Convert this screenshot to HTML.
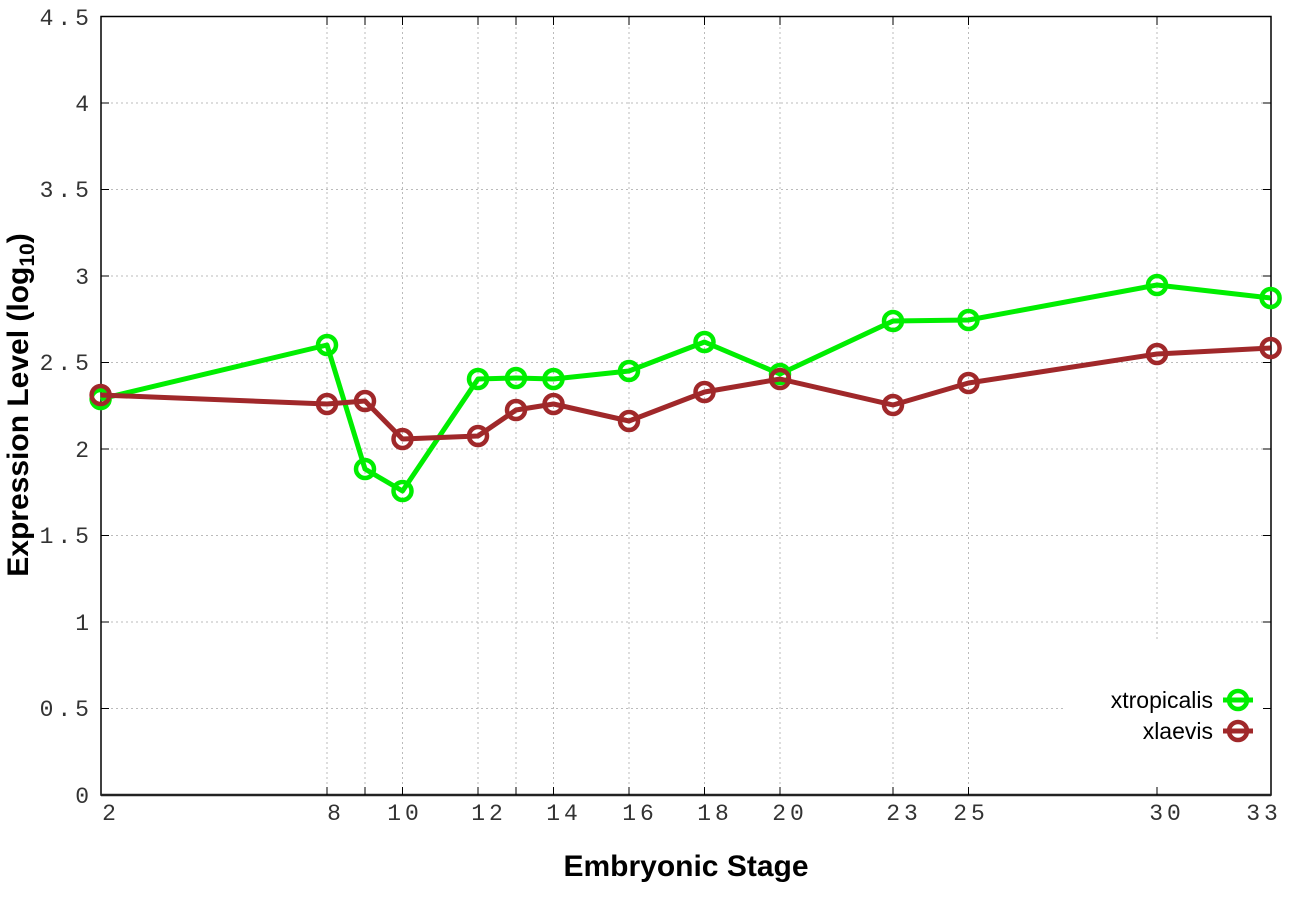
<!DOCTYPE html>
<html><head><style>body{margin:0;background:#fff}svg{display:block}</style></head><body>
<svg width="1296" height="907" xmlns="http://www.w3.org/2000/svg">
<rect width="1296" height="907" fill="#fff"/>
<g stroke="#bbb" stroke-width="1" stroke-dasharray="2,3">
<line x1="101" x2="1271" y1="708.5" y2="708.5"/><line x1="101" x2="1271" y1="622" y2="622"/>
<line x1="101" x2="1271" y1="535.5" y2="535.5"/><line x1="101" x2="1271" y1="449" y2="449"/>
<line x1="101" x2="1271" y1="362.5" y2="362.5"/><line x1="101" x2="1271" y1="276" y2="276"/>
<line x1="101" x2="1271" y1="189.5" y2="189.5"/><line x1="101" x2="1271" y1="103" y2="103"/>
<line x1="327" x2="327" y1="17" y2="795"/><line x1="365" x2="365" y1="17" y2="795"/>
<line x1="402.5" x2="402.5" y1="17" y2="795"/><line x1="478" x2="478" y1="17" y2="795"/>
<line x1="516" x2="516" y1="17" y2="795"/><line x1="553.5" x2="553.5" y1="17" y2="795"/>
<line x1="629" x2="629" y1="17" y2="795"/><line x1="704.5" x2="704.5" y1="17" y2="795"/>
<line x1="780" x2="780" y1="17" y2="795"/><line x1="893" x2="893" y1="17" y2="795"/>
<line x1="968.5" x2="968.5" y1="17" y2="795"/><line x1="1157" x2="1157" y1="17" y2="640"/>
</g>
<rect x="1065" y="660" width="200" height="100" fill="#fff"/>
<g stroke="#000" stroke-width="1.5">
<rect x="101" y="16.5" width="1170" height="778.5" fill="none"/>
</g>
<line x1="101" x2="1271" y1="795" y2="795" stroke="#222" stroke-width="2.5"/>
<g stroke="#000" stroke-width="1">
<path d="M101 708.5h8M101 622h8M101 535.5h8M101 449h8M101 362.5h8M101 276h8M101 189.5h8M101 103h8M1271 708.5h-8M1271 622h-8M1271 535.5h-8M1271 449h-8M1271 362.5h-8M1271 276h-8M1271 189.5h-8M1271 103h-8"/>
<path d="M327 795v-8M365 795v-8M402.5 795v-8M478 795v-8M516 795v-8M553.5 795v-8M629 795v-8M704.5 795v-8M780 795v-8M893 795v-8M968.5 795v-8M1157 795v-8M327 17v8M365 17v8M402.5 17v8M478 17v8M516 17v8M553.5 17v8M629 17v8M704.5 17v8M780 17v8M893 17v8M968.5 17v8M1157 17v8"/>
</g>
<g font-family="Liberation Mono, monospace" font-size="23" fill="#333" text-anchor="end" letter-spacing="4">
<text x="93" y="803">0</text><text x="93" y="716">0.5</text><text x="93" y="630">1</text>
<text x="93" y="543">1.5</text><text x="93" y="457">2</text><text x="93" y="370">2.5</text>
<text x="93" y="284">3</text><text x="93" y="197">3.5</text><text x="93" y="111">4</text><text x="93" y="25">4.5</text>
</g>
<g font-family="Liberation Mono, monospace" font-size="23" fill="#333" text-anchor="middle" letter-spacing="4">
<text x="111" y="820">2</text><text x="336" y="820">8</text><text x="405" y="820">10</text>
<text x="489" y="820">12</text><text x="564" y="820">14</text><text x="640" y="820">16</text>
<text x="715" y="820">18</text><text x="790" y="820">20</text><text x="904" y="820">23</text>
<text x="971" y="820">25</text><text x="1167" y="820">30</text><text x="1264" y="820">33</text>
</g>
<text x="686" y="876" font-family="Liberation Sans, sans-serif" font-weight="bold" font-size="30" text-anchor="middle">Embryonic Stage</text>
<text transform="translate(28,405) rotate(-90)" font-family="Liberation Sans, sans-serif" font-weight="bold" font-size="30" text-anchor="middle">Expression Level (log<tspan font-size="21" dy="6">10</tspan><tspan dy="-6">)</tspan></text>
<g fill="none" stroke-width="5" stroke-linejoin="round">
<polyline stroke="#00ee00" points="100.6,399 327,345 365,469 402.5,491 478,379 516,378 553.5,379 629,371 704.5,342 780,374 893,321 968.5,320 1157,285 1270.6,298"/>
<g stroke="#00ee00" stroke-width="4.5">
<circle cx="100.6" cy="399" r="9"/><circle cx="327" cy="345" r="9"/><circle cx="365" cy="469" r="9"/><circle cx="402.5" cy="491" r="9"/><circle cx="478" cy="379" r="9"/><circle cx="516" cy="378" r="9"/><circle cx="553.5" cy="379" r="9"/><circle cx="629" cy="371" r="9"/><circle cx="704.5" cy="342" r="9"/><circle cx="780" cy="374" r="9"/><circle cx="893" cy="321" r="9"/><circle cx="968.5" cy="320" r="9"/><circle cx="1157" cy="285" r="9"/><circle cx="1270.6" cy="298" r="9"/>
</g>
<polyline stroke="#a0282a" points="100.6,395 327,404 365,401 402.5,439 478,436 516,410 553.5,404 629,421 704.5,392 780,379 893,405 968.5,383 1157,354 1270.6,348"/>
<g stroke="#a0282a" stroke-width="4.5">
<circle cx="100.6" cy="395" r="9"/><circle cx="327" cy="404" r="9"/><circle cx="365" cy="401" r="9"/><circle cx="402.5" cy="439" r="9"/><circle cx="478" cy="436" r="9"/><circle cx="516" cy="410" r="9"/><circle cx="553.5" cy="404" r="9"/><circle cx="629" cy="421" r="9"/><circle cx="704.5" cy="392" r="9"/><circle cx="780" cy="379" r="9"/><circle cx="893" cy="405" r="9"/><circle cx="968.5" cy="383" r="9"/><circle cx="1157" cy="354" r="9"/><circle cx="1270.6" cy="348" r="9"/>
</g>
</g>
<g font-family="Liberation Sans, sans-serif" font-size="23" fill="#000" text-anchor="end">
<text x="1213" y="708">xtropicalis</text><text x="1213" y="739">xlaevis</text>
</g>
<g fill="none" stroke-width="5">
<path d="M1223 700h30" stroke="#00ee00"/><circle cx="1238" cy="700" r="9" stroke="#00ee00" stroke-width="4.5"/>
<path d="M1223 731h30" stroke="#a0282a"/><circle cx="1238" cy="731" r="9" stroke="#a0282a" stroke-width="4.5"/>
</g>
</svg>
</body></html>
